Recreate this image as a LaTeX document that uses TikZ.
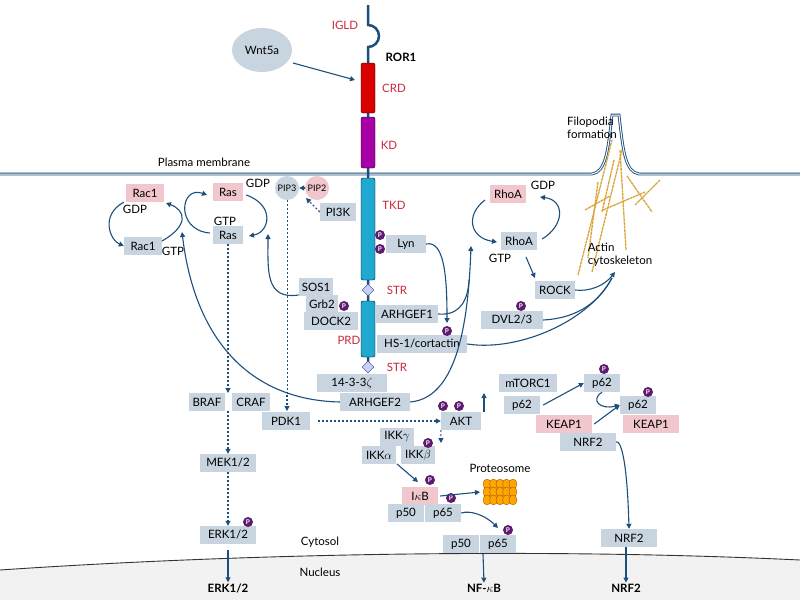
\documentclass[tikz,border=0pt]{standalone}
\usepackage{fontspec}
\setmainfont{Lato}
\usetikzlibrary{positioning,arrows.meta,shapes.geometric}
\definecolor{boxc}{HTML}{C8D5E0}
\definecolor{pinkc}{HTML}{F2C6CD}
\definecolor{arrc}{HTML}{1D4F7C}
\definecolor{redt}{HTML}{C8283C}
\definecolor{phc}{HTML}{5E1A6E}
\definecolor{tkc}{HTML}{1FA8D0}
\definecolor{actc}{HTML}{D9A53A}
\tikzset{
  bx/.style={fill=boxc,inner ysep=1pt,inner xsep=3pt,minimum height=18,font=\fontsize{11.5}{13}\selectfont},
  pk/.style={bx,fill=pinkc},
  lbl/.style={font=\fontsize{11.5}{13}\selectfont,inner sep=1pt},
  dom/.style={font=\fontsize{11.5}{13}\selectfont,text=redt,inner sep=1pt},
  bold/.style={font=\fontsize{11.5}{13}\selectfont\bfseries,inner sep=1pt},
  phos/.style={circle,fill=phc,text=white,inner sep=0pt,minimum size=10,font=\fontsize{6.5}{6.5}\selectfont\bfseries},
  ar/.style={draw=arrc,line width=1.1pt,-{Triangle[length=5pt,width=5pt]}},
  dar/.style={ar,dash pattern=on 2pt off 2pt},
}
\newcommand{\phos}[2]{\node[phos] (#1) at (#2) {P};}
\begin{document}
\begin{tikzpicture}[x=1pt,y=-1pt]
\useasboundingbox (0,0) rectangle (800,600);
% nucleus
\fill[gray!10] (0,570) .. controls (250,553) and (550,548) .. (800,560) -- (800,600) -- (0,600) -- cycle;
\draw[black!80,line width=0.9pt] (0,570) .. controls (250,553) and (550,548) .. (800,560);
% membrane
\draw[arrc,line width=2.8pt] (0,174) -- (592,174) .. controls (606,172) and (608,150) .. (612,115)
  -- (619,115) .. controls (623,150) and (625,172) .. (639,174) -- (800,174);
\draw[white,line width=1pt] (0,174) -- (592,174) .. controls (606,172) and (608,150) .. (612,115)
  -- (619,115) .. controls (623,150) and (625,172) .. (639,174) -- (800,174);
% actin
\foreach \a/\b/\c/\d in {578/275/612/140, 592/272/622/150, 603/210/645/192, 598/182/588/258, 627/176/652/212, 614/160/602/212, 620/150/626/250, 585/210/610/196, 635/205/660/180}
  \draw[actc,line width=1.3pt,dash pattern=on 3pt off 0.6pt] (\a,\b) -- (\c,\d);
% receptor
\draw[arrc,line width=2.5pt] (368,5) -- (368,25) arc (-90:90:11) -- (368,372);
\draw[fill=red!85!black,rounded corners=2pt] (361,63) rectangle (375,113);
\draw[fill=violet!70!magenta,rounded corners=2pt] (361,117) rectangle (375,168);
\draw[fill=tkc,rounded corners=2pt] (361,178) rectangle (375,280);
\draw[fill=tkc,rounded corners=2pt] (361,301) rectangle (375,357);
\node[diamond,draw=arrc,fill=blue!20,minimum size=12,inner sep=0pt] (str1) at (368,290) {};
\node[diamond,draw=arrc,fill=blue!20,minimum size=12,inner sep=0pt] (str2) at (368,367) {};
\node[dom] at (345,25) {IGLD};
\node[bold] at (401,57) {ROR1};
\node[dom] at (394,88) {CRD};
\node[dom] at (389,145) {KD};
\node[dom] at (394,205) {TKD};
\node[dom] at (397,290) {STR};
\node[dom] at (349,340) {PRD};
\node[dom] at (397,367) {STR};
\node[ellipse,fill=boxc,minimum width=60,minimum height=44,lbl] (wnt) at (262,50) {Wnt5a};
\draw[ar] (293,63) -- (355,80);
\node[lbl] at (204,162) {Plasma membrane};
\node[lbl,align=left] at (592,128) {Filopodia\\formation};
\node[lbl,align=left] at (620,255) {Actin\\cytoskeleton};
% Rac1
\node[pk,minimum width=38] (rac1a) at (145,193) {Rac1};
\node[bx,minimum width=38] (rac1b) at (143,246) {Rac1};
\node[lbl] at (135,209) {GDP};
\node[lbl] at (173,251) {GTP};
\draw[ar] (rac1a.south west) ++(-2,0) .. controls (100,215) and (110,240) .. (rac1b.west);
\draw[ar] (162,241) .. controls (190,225) and (185,210) .. (166,203);
% Ras
\node[pk,minimum width=30] (rasa) at (228,192) {Ras};
\node[bx,minimum width=30] (rasb) at (228,235) {Ras};
\node[lbl] at (258,183) {GDP};
\node[lbl] at (225,221) {GTP};
\draw[ar] (rasb.west) ++(-3,-2) .. controls (175,230) and (180,185) .. (207,195);
\draw[ar] (rasa.east) ++(3,3) .. controls (275,205) and (270,232) .. (249,236);
\draw[dar] (rasb.south) -- (228,393);
% PIP
\node[circle,fill=boxc,minimum size=24,inner sep=0pt,font=\fontsize{9}{9}\selectfont] (pip3) at (287,188) {PIP3};
\node[circle,fill=pinkc,minimum size=24,inner sep=0pt,font=\fontsize{9}{9}\selectfont] (pip2) at (317,188) {PIP2};
\draw[ar] (pip2) -- (pip3);
\node[bx,minimum width=36] (pi3k) at (338,212) {PI3K};
\draw[dar] (pi3k.west) -- (306,198);
\draw[arrc,line width=1pt,dash pattern=on 2pt off 2pt] (pip3.south) -- (287,395);
\draw[dar] (287,395) -- (287,411);
% adaptors
\node[bx,minimum width=32] (sos) at (316,287) {SOS1};
\node[bx,minimum width=32] (grb) at (322,304) {Grb2};
\node[bx,minimum width=54] (dock) at (331,321) {DOCK2};
\phos{pg}{344,306}
\draw[ar] (sos.west) ++(0,8) .. controls (265,300) and (268,270) .. (268,234);
\node[bx,minimum width=40] (lyn) at (406,244) {Lyn};
\phos{pa}{380,235}
\phos{pb}{380,249}
\node[bx,minimum width=62] (arh1) at (407,314) {ARHGEF1};
\node[bx,minimum width=90] (hs) at (422,344) {HS-1/cortactin};
\phos{ph}{447,331}
\node[bx,minimum width=70] (z) at (352,383) {14-3-3$\zeta$};
\node[bx,minimum width=70] (arh2) at (375,402) {ARHGEF2};
\draw[ar] (lyn.east) .. controls (445,240) and (447,280) .. (447,323);
\draw[arrc,line width=1.1pt] (arh1.east) .. controls (460,316) and (468,300) .. (469,280);
\draw[ar] (arh2.east) .. controls (455,398) and (468,330) .. (471,246);
\draw[ar] (arh2.west) .. controls (250,400) and (195,340) .. (182,232);
% Rho
\node[pk,minimum width=36] (rhoa) at (508,194) {RhoA};
\node[bx,minimum width=36] (rhob) at (519,241) {RhoA};
\node[lbl] at (543,185) {GDP};
\node[lbl] at (500,258) {GTP};
\draw[ar] (485,200) .. controls (465,215) and (470,238) .. (497,242);
\draw[ar] (rhob.east) ++(5,-2) .. controls (565,225) and (565,200) .. (540,197);
\node[bx,minimum width=40] (rock) at (555,290) {ROCK};
\node[bx,minimum width=62] (dvl) at (512,320) {DVL2/3};
\phos{pd}{521,306}
\draw[ar] (526,257) -- (535,278);
\coordinate (act) at (615,272);
\draw[ar] (rock.east) .. controls (590,292) and (605,285) .. (act);
\draw[arrc,line width=1.1pt] (dvl.east) .. controls (580,318) and (600,300) .. (612,278);
\draw[arrc,line width=1.1pt] (hs.east) .. controls (520,352) and (590,320) .. (612,278);
% MAPK
\node[bx,minimum width=36] (braf) at (207,402) {BRAF};
\node[bx,minimum width=38] (craf) at (251,402) {CRAF};
\node[bx,minimum width=48] (pdk) at (286,421) {PDK1};
\node[bx,minimum width=56] (mek) at (228,463) {MEK1/2};
\node[bx,minimum width=56] (erk) at (228,535) {ERK1/2};
\phos{pe}{248,522}
\draw[dar] (228,411) -- (mek.north);
\draw[dar] (mek.south) -- (erk.north);
\node[bold] (erkn) at (228,588) {ERK1/2};
\draw[ar] (erk.south) ++(0,6) -- (erkn.north);
\node[lbl] at (320,542) {Cytosol};
\node[lbl] at (320,572) {Nucleus};
% AKT
\node[bx,minimum width=40] (akt) at (461,421) {AKT};
\phos{pk1}{443,406}
\phos{pk2}{459,406}
\draw[dar] (pdk.east) ++(8,0) -- (akt.west);
\draw[ar] (484,412) -- (484,393);
\node[bx,minimum width=58] (mtor) at (528,383) {mTORC1};
\node[bx,minimum width=36] (p62a) at (522,405) {p62};
\node[bx,minimum width=36] (p62b) at (602,383) {p62};
\phos{pq}{604,369}
\node[bx,minimum width=36] (p62c) at (638,405) {p62};
\phos{pr}{648,392}
\node[pk,minimum width=56] (keap) at (564,424) {KEAP1};
\node[pk,minimum width=56] (keapb) at (651,424) {KEAP1};
\node[bx,minimum width=56] (nrf) at (588,442) {NRF2};
\draw[ar] (p62a.east) ++(3,0) -- (p62b.west);
\draw[ar] (p62b.south) .. controls (590,400) and (600,410) .. (p62c.west);
\draw[ar] (keap.east) ++(2,0) -- (p62c.west);
\node[bx,minimum width=56] (nrfb) at (629,538) {NRF2};
\draw[ar] (nrf.east) .. controls (620,440) and (627,455) .. (nrfb.north);
\node[bold] (nrfn) at (626,588) {NRF2};
\draw[ar] (nrfb.south) ++(-3,0) -- (nrfn.north);
% NF-kB
\node[bx,minimum width=34] (ikkg) at (397,437) {IKK$\gamma$};
\node[bx,minimum width=34] (ikka) at (379,455) {IKK$\alpha$};
\node[bx,minimum width=34] (ikkb) at (418,455) {IKK$\beta$};
\phos{pi}{428,443}
\draw[dar] (akt.south west) -- (441,443);
\node[pk,minimum width=36] (ikb) at (420,496) {I$\kappa$B};
\phos{px}{430,480}
\node[bx,minimum width=36] (p50) at (406,513) {p50};
\node[bx,minimum width=36] (p65) at (443,513) {p65};
\phos{py}{451,498}
\draw[ar] (397,464) -- (418,482);
\node[lbl] at (500,468) {Proteosome};
\foreach \i in {0,...,4} \foreach \j in {0,...,2}
  \node[ellipse,draw=orange!70!black,fill=orange!70!yellow,minimum width=8,minimum height=10,inner sep=0pt] at (487+\i*6.5,484+\j*8) {};
\coordinate (prot) at (480,492);
\draw[ar] (ikb.east) ++(2,0) -- (prot);
\node[bx,minimum width=36] (p50b) at (461,544) {p50};
\node[bx,minimum width=36] (p65b) at (498,544) {p65};
\phos{pz}{508,530}
\draw[ar] (p65.east) .. controls (470,510) and (485,515) .. (498,528);
\node[bold] (nfkb) at (484,588) {NF-$\kappa$B};
\draw[ar] (483,554) -- (nfkb.north);
\end{tikzpicture}
\end{document}
